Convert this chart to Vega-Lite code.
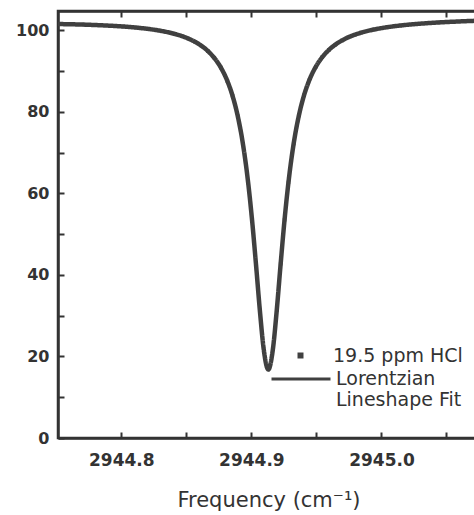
{
  "$schema": "https://vega.github.io/schema/vega-lite/v6.json",
  "width": 421,
  "height": 427,
  "autosize": {"type": "none"},
  "padding": {"left": 58, "top": 11, "right": 0, "bottom": 77},
  "background": "white",
  "config": {
    "view": {"stroke": "#333", "strokeWidth": 2.5},
    "axis": {
      "domainColor": "#333", "domainWidth": 2.5,
      "tickColor": "#333", "tickWidth": 2, "tickSize": -6,
      "labelColor": "#333", "labelFont": "DejaVu Sans", "labelFontWeight": "bold",
      "grid": false,
      "titleColor": "#333", "titleFont": "DejaVu Sans", "titleFontWeight": "normal"
    },
    "legend": {
      "title": null, "padding": 0, "labelFont": "DejaVu Sans", "labelFontSize": 19,
      "labelColor": "#333", "labelLimit": 0, "orient": "none"
    }
  },
  "data": {"values": [
    {"f": 2944.7480, "T": 101.53}, {"f": 2944.7615, "T": 101.44}, {"f": 2944.7715, "T": 101.36},
    {"f": 2944.7815, "T": 101.24}, {"f": 2944.7915, "T": 101.09}, {"f": 2944.8015, "T": 100.90},
    {"f": 2944.8115, "T": 100.63}, {"f": 2944.8215, "T": 100.27}, {"f": 2944.8315, "T": 99.77},
    {"f": 2944.8415, "T": 99.04}, {"f": 2944.8465, "T": 98.55}, {"f": 2944.8515, "T": 97.94},
    {"f": 2944.8565, "T": 97.17}, {"f": 2944.8615, "T": 96.19}, {"f": 2944.8665, "T": 94.89},
    {"f": 2944.8715, "T": 93.18}, {"f": 2944.8765, "T": 90.84}, {"f": 2944.8815, "T": 87.55},
    {"f": 2944.8855, "T": 83.91}, {"f": 2944.8895, "T": 78.94}, {"f": 2944.8935, "T": 72.08},
    {"f": 2944.8975, "T": 62.62}, {"f": 2944.9005, "T": 53.46}, {"f": 2944.9035, "T": 42.69},
    {"f": 2944.9065, "T": 31.31}, {"f": 2944.9095, "T": 21.70}, {"f": 2944.9130, "T": 16.80},
    {"f": 2944.9165, "T": 21.72}, {"f": 2944.9195, "T": 31.34}, {"f": 2944.9225, "T": 42.73},
    {"f": 2944.9255, "T": 53.53}, {"f": 2944.9285, "T": 62.69}, {"f": 2944.9325, "T": 72.17},
    {"f": 2944.9365, "T": 79.06}, {"f": 2944.9405, "T": 84.05}, {"f": 2944.9445, "T": 87.71},
    {"f": 2944.9495, "T": 91.02}, {"f": 2944.9545, "T": 93.39}, {"f": 2944.9595, "T": 95.13},
    {"f": 2944.9645, "T": 96.44}, {"f": 2944.9695, "T": 97.45}, {"f": 2944.9745, "T": 98.25},
    {"f": 2944.9795, "T": 98.88}, {"f": 2944.9845, "T": 99.40}, {"f": 2944.9945, "T": 100.18},
    {"f": 2945.0045, "T": 100.73}, {"f": 2945.0145, "T": 101.14}, {"f": 2945.0245, "T": 101.46},
    {"f": 2945.0345, "T": 101.70}, {"f": 2945.0445, "T": 101.90}, {"f": 2945.0545, "T": 102.06},
    {"f": 2945.0645, "T": 102.20}, {"f": 2945.0760, "T": 102.34}
  ]},
  "resolve": {"axis": {"x": "independent", "y": "independent"}},
  "layer": [
    {
      "mark": {"type": "line", "strokeWidth": 4.5, "color": "#404040", "interpolate": "monotone", "clip": true},
      "encoding": {
        "x": {"field": "f", "type": "quantitative",
          "scale": {"domain": [2944.7513, 2945.075], "nice": false, "zero": false},
          "axis": {
            "orient": "bottom",
            "values": [2944.8, 2944.85, 2944.9, 2944.95, 2945.0, 2945.05],
            "labelExpr": "abs(datum.value*10 - round(datum.value*10)) < 0.01 ? format(datum.value, '.1f') : ''",
            "labelFontSize": 17, "labelPadding": 20,
            "title": "Frequency (cm⁻¹)", "titleFontSize": 21, "titlePadding": 21
          }},
        "y": {"field": "T", "type": "quantitative",
          "scale": {"domain": [0, 104.7], "nice": false},
          "axis": {
            "values": [0, 10, 20, 30, 40, 50, 60, 70, 80, 90, 100],
            "labelExpr": "datum.value % 20 === 0 ? datum.label : ''",
            "labelFontSize": 16, "labelPadding": 15, "title": null
          }},
        "strokeDash": {"datum": "Lorentzian Lineshape Fit", "type": "nominal",
          "scale": {"range": [[1, 0]]},
          "legend": {
            "legendX": 212, "legendY": 337,
            "symbolType": "stroke", "symbolSize": 3481, "symbolStrokeWidth": 3,
            "symbolStrokeColor": "#404040", "labelOffset": 4,
            "labelExpr": "['Lorentzian', 'Lineshape Fit']"
          }}
      }
    },
    {
      "mark": {"type": "point", "filled": true, "size": 12, "color": "#404040", "opacity": 1, "clip": true},
      "encoding": {
        "x": {"field": "f", "type": "quantitative",
          "axis": {"orient": "top", "values": [2944.8, 2944.85, 2944.9, 2944.95, 2945.0, 2945.05], "labels": false, "title": null}},
        "y": {"field": "T", "type": "quantitative", "axis": null},
        "shape": {"datum": "19.5 ppm HCl", "type": "nominal",
          "scale": {"range": ["square"]},
          "legend": {
            "legendX": 233, "legendY": 335,
            "symbolSize": 36, "symbolFillColor": "#404040", "symbolStrokeWidth": 0,
            "symbolOpacity": 1, "labelOffset": 23
          }}
      }
    }
  ]
}
